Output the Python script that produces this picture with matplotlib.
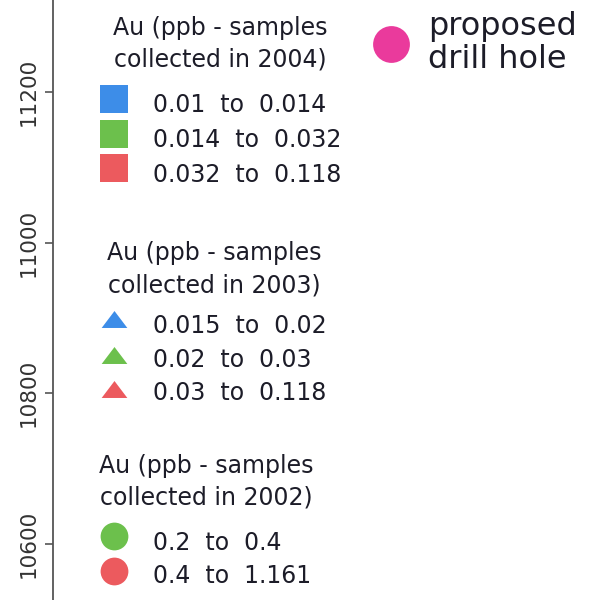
import matplotlib
matplotlib.use("Agg")
import matplotlib.pyplot as plt
from matplotlib.path import Path

# y axis (northing) shown at the left edge
y_ticks = [10600, 10800, 11000, 11200]
y_range = [10525.7, 11322.1]

# legend groups
titles = ["Au (ppb - samples\ncollected in 2004)",
          "Au (ppb - samples\ncollected in 2003)",
          "Au (ppb - samples\ncollected in 2002)"]
labels_2004 = ["0.01  to  0.014", "0.014  to  0.032", "0.032  to  0.118"]
labels_2003 = ["0.015  to  0.02", "0.02  to  0.03", "0.03  to  0.118"]
labels_2002 = ["0.2  to  0.4", "0.4  to  1.161"]
colors_2004 = ["#3d8de8", "#6cc04c", "#ec5a5e"]
colors_2003 = ["#3d8de8", "#6cc04c", "#ec5a5e"]
colors_2002 = ["#6cc04c", "#ec5a5e"]
drill_label = "proposed\ndrill hole"
drill_color = "#ea3a9c"

W, H = 596, 600
x0 = 52.5
txt = "#1c1c28"

fig = plt.figure(figsize=(W / 100, H / 100), dpi=100)
ax = fig.add_axes([x0 / W, 0, 1 - x0 / W, 1])
ax.set_ylim(*y_range)
ax.set_xlim(0, 1)
ax.set_yticks(y_ticks)
ax.set_yticklabels([str(v) for v in y_ticks], rotation=90, va="center",
                   fontsize=15.5, color="#333333")
ax.tick_params(axis="y", length=6, width=1.2, color="#555555", pad=4)
ax.set_xticks([])
for s in ["top", "right", "bottom"]:
    ax.spines[s].set_visible(False)
ax.spines["left"].set_color("#555555")
ax.spines["left"].set_linewidth(1.3)


def pos(px, py):
    # image pixel -> axes fraction
    return (px - x0) / (W - x0), 1 - py / H


tri = Path([(-1, -0.66), (1, -0.66), (0, 0.66), (-1, -0.66)],
           [Path.MOVETO, Path.LINETO, Path.LINETO, Path.CLOSEPOLY])

groups = [
    (titles[0], 220, [35, 67], labels_2004, colors_2004, "s", 20.5, [99, 134, 168], [112, 147, 182]),
    (titles[1], 214, [260, 292], labels_2003, colors_2003, tri, 18.5, [319, 355, 389], [333, 367, 400]),
    (titles[2], 206, [473, 505], labels_2002, colors_2002, "o", 20, [536, 571], [550, 583]),
]

for title, cx, tbase, labels, colors, marker, msize, my, ty in groups:
    for line, b in zip(title.split("\n"), tbase):
        ax.text(*pos(cx, b), line, transform=ax.transAxes, ha="center",
                va="baseline", fontsize=17, color=txt)
    for lab, col, m_y, t_y in zip(labels, colors, my, ty):
        mx, myf = pos(114, m_y)
        ax.plot([mx], [myf], marker=marker, markersize=msize, color=col,
                markeredgewidth=0, linestyle="none", transform=ax.transAxes,
                clip_on=False)
        ax.text(*pos(153, t_y), lab, transform=ax.transAxes, ha="left",
                va="baseline", fontsize=17, color=txt)

dx, dy = pos(390.5, 44)
ax.plot([dx], [dy], marker="o", markersize=26.5, color=drill_color,
        markeredgewidth=0, linestyle="none", transform=ax.transAxes, clip_on=False)
for line, b in zip(drill_label.split("\n"), [35, 68]):
    ax.text(*pos(428, b), line, transform=ax.transAxes, ha="left",
            va="baseline", fontsize=23, color=txt)

fig.savefig("out.png", dpi=100)
